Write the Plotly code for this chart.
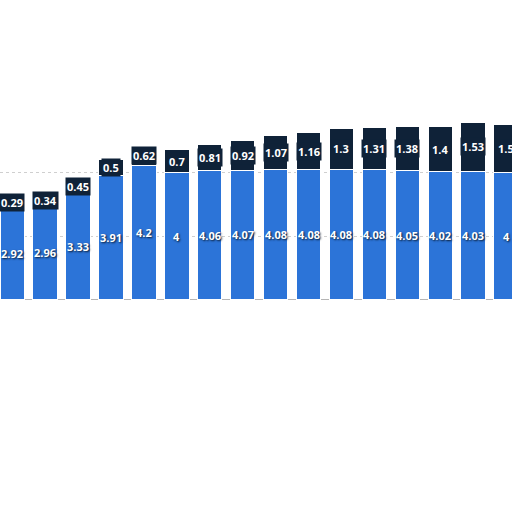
import plotly.graph_objects as go

# per-bar values (16 visible columns)
positions = list(range(16))
base_values = [2.92, 2.96, 3.33, 3.91, 4.2, 4, 4.06, 4.07, 4.08, 4.08, 4.08, 4.08, 4.05, 4.02, 4.03, 4]
top_values = [0.29, 0.34, 0.45, 0.5, 0.62, 0.7, 0.81, 0.92, 1.07, 1.16, 1.3, 1.31, 1.38, 1.4, 1.53, 1.5]

BLUE = "#2C74D8"
NAVY = "#0F2238"
label_font = dict(family="Open Sans", size=11, color="white", weight="bold")

fig = go.Figure()
fig.add_trace(go.Bar(x=positions, y=base_values,
                     marker=dict(color=BLUE, line=dict(color="white", width=1))))
fig.add_trace(go.Bar(x=positions, y=top_values,
                     marker=dict(color=NAVY, line=dict(color="white", width=1))))

# labels drawn as annotations so they are not shrunk to the narrow bars
for p, b, t in zip(positions, base_values, top_values):
    fig.add_annotation(x=p, y=b / 2, text=f"{b:g}", showarrow=False,
                       font=dict(label_font, shadow="1px 1px 2px #0a1a2e"))
    fig.add_annotation(x=p, y=b + t / 2, text=f"{t:g}", showarrow=False,
                       font=label_font, bgcolor=NAVY, borderpad=1)

fig.update_layout(
    barmode="stack", bargap=0.26, showlegend=False,
    width=512, height=512, margin=dict(l=0, r=0, t=0, b=0),
    plot_bgcolor="white", paper_bgcolor="white",
)
fig.update_xaxes(range=[-0.37, 15.18], showticklabels=False, showgrid=False,
                 showline=False, zeroline=False)
fig.update_yaxes(range=[-6.65, 9.4], showticklabels=False, tickvals=[0, 2, 4],
                 gridcolor="#cfcfcf", griddash="dot", zeroline=True,
                 zerolinecolor="#b5b5b5", zerolinewidth=1)

# drop the default page margin so the chart sits flush with the window edge
fig.write_html("out.html", config={"displayModeBar": False},
               post_script="document.body.style.margin='0';")
